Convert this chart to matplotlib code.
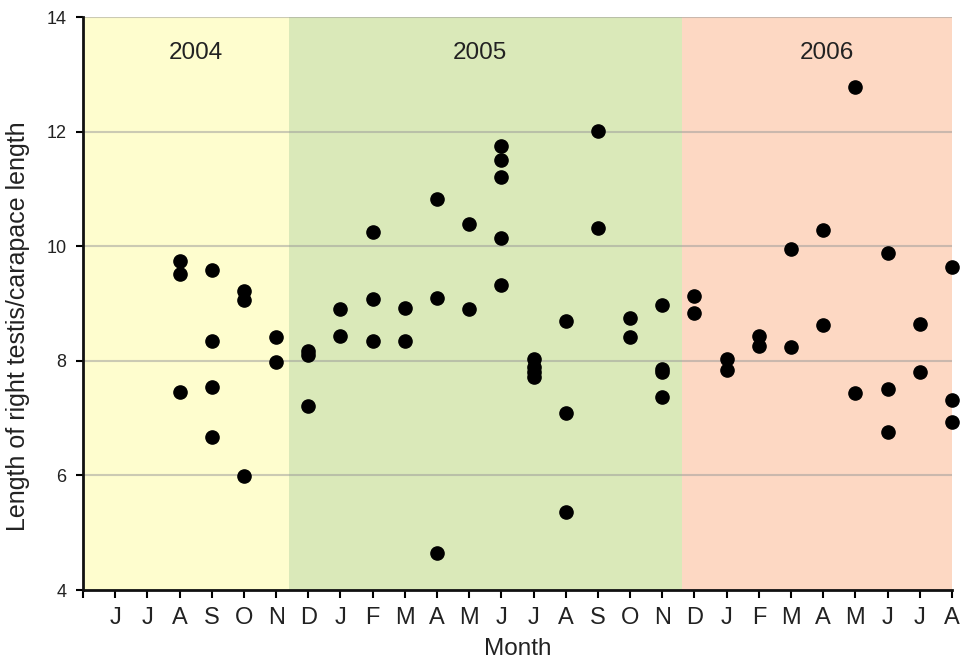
import matplotlib.pyplot as plt
import numpy as np

plt.rcParams['font.family'] = ['Liberation Sans', 'DejaVu Sans']

months = ['J', 'J', 'A', 'S', 'O', 'N',
          'D', 'J', 'F', 'M', 'A', 'M', 'J', 'J', 'A', 'S', 'O', 'N',
          'D', 'J', 'F', 'M', 'A', 'M', 'J', 'J', 'A']

# sample month index (1 = June 2004) and testis/carapace ratio
month_idx = [3, 3, 3,
             4, 4, 4, 4,
             5, 5, 5,
             6, 6,
             7, 7, 7,
             8, 8,
             9, 9, 9,
             10, 10,
             11, 11, 11,
             12, 12,
             13, 13, 13, 13, 13,
             14, 14, 14, 14,
             15, 15, 15,
             16, 16,
             17, 17,
             18, 18, 18, 18,
             19, 19,
             20, 20,
             21, 21,
             22, 22,
             23, 23,
             24, 24,
             25, 25, 25,
             26, 26,
             27, 27, 27]
ratio = [9.74, 9.51, 7.45,
         9.58, 8.35, 7.55, 6.67,
         9.22, 9.06, 5.99,
         8.41, 7.98,
         8.18, 8.10, 7.21,
         8.90, 8.44,
         10.25, 9.09, 8.35,
         8.92, 8.35,
         10.82, 9.10, 4.65,
         10.39, 8.91,
         11.76, 11.50, 11.21, 10.14, 9.33,
         8.04, 7.90, 7.80, 7.72,
         8.69, 7.09, 5.37,
         12.02, 10.32,
         8.75, 8.42,
         8.97, 7.86, 7.81, 7.37,
         9.14, 8.83,
         8.04, 7.85,
         8.44, 8.26,
         9.95, 8.25,
         10.28, 8.63,
         12.78, 7.44,
         9.89, 7.51, 6.76,
         8.65, 7.81,
         9.64, 7.31, 6.93]

years = ['2004', '2005', '2006']
year_spans = [(0, 6.4), (6.4, 18.6), (18.6, 27)]
year_colors = ['#fefdce', '#dae9b9', '#fdd8c3']
year_label_x = [3.5, 12.33, 23.1]

fig = plt.figure(figsize=(9.65, 6.59), dpi=100)
ax = fig.add_axes([0.086, 0.1047, 0.9005, 0.869])

for (x0, x1), c in zip(year_spans, year_colors):
    ax.axvspan(x0, x1, color=c, lw=0, zorder=0)
for yr, xl in zip(years, year_label_x):
    ax.text(xl, 13.38, yr, ha='center', va='center', fontsize=17.5, color='#222222')

for g in [6, 8, 10, 12, 14]:
    ax.axhline(g, color='#999999', alpha=0.5, lw=1.5, zorder=1)

ax.plot(month_idx, ratio, 'o', color='black', ms=9.5, zorder=3, clip_on=False)

ax.set_xlim(0, 27)
ax.set_ylim(4, 14)
ax.set_xticks(np.arange(0, 28))
ax.set_xticklabels([''] + months, fontsize=17, color='#222222')
ax.set_yticks([4, 6, 8, 10, 12, 14])
ax.set_yticklabels(['4', '6', '8', '10', '12', '14'], fontsize=13, color='#222222')
ax.tick_params(axis='x', length=6, width=1.5, pad=6, direction='out')
ax.tick_params(axis='y', length=5, width=1.5, pad=7, direction='out')

for s in ['top', 'right']:
    ax.spines[s].set_visible(False)
for s in ['left', 'bottom']:
    ax.spines[s].set_linewidth(2)
    ax.spines[s].set_color('#111111')

ax.set_xlabel('Month', fontsize=17.5, color='#222222', labelpad=7)
ax.set_ylabel('Length of right testis/carapace length', fontsize=18, color='#222222')
ax.yaxis.set_label_coords(-0.061, 0.46)

fig.savefig('out.png', dpi=100)
